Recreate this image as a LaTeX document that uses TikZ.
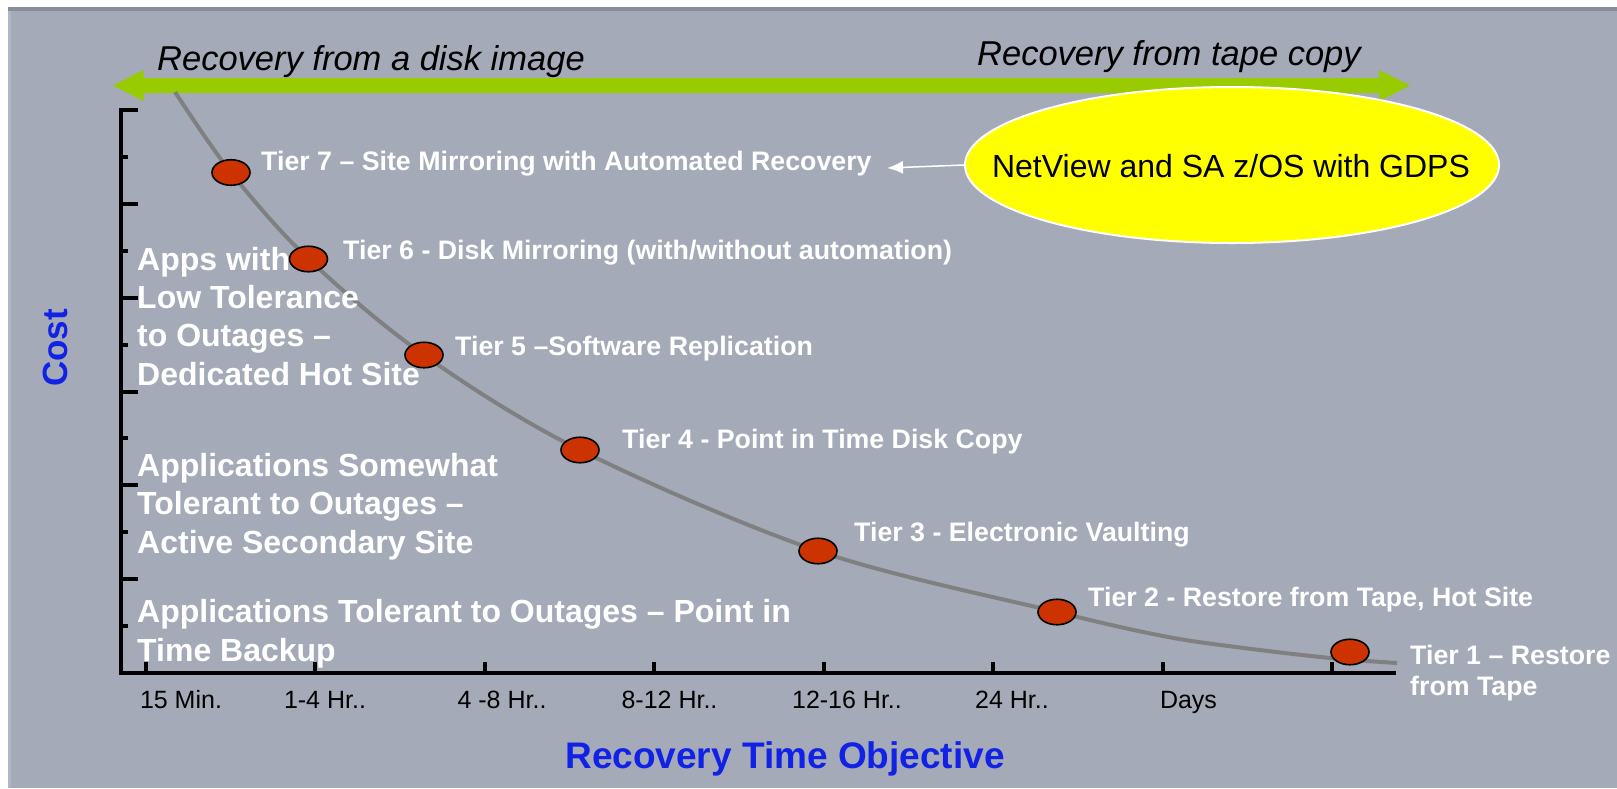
\documentclass[tikz,border=0pt]{standalone}
\usepackage{fontspec}
\setmainfont{Liberation Sans}
\usetikzlibrary{arrows.meta,shapes.geometric}
\definecolor{panel}{RGB}{164,170,183}
\definecolor{panelrim}{RGB}{136,141,150}
\definecolor{paneledge}{RGB}{176,184,200}
\definecolor{leaf}{RGB}{153,204,0}
\definecolor{dotred}{RGB}{204,51,0}
\definecolor{curvegray}{RGB}{128,128,128}
\definecolor{titleblue}{RGB}{17,34,230}
\definecolor{gdpsyellow}{RGB}{255,255,0}
\tikzset{
  tierdot/.style={ellipse, draw=black, line width=1.6pt, fill=dotred,
    minimum width=38pt, minimum height=25.5pt, inner sep=0pt},
  tierlabel/.style={anchor=base west, inner sep=0pt, text=white, align=left,
    font=\bfseries\fontsize{26.75}{31}\selectfont},
  bandlabel/.style={anchor=base west, inner sep=0pt, text=white, align=left,
    font=\bfseries\fontsize{32}{38.3}\selectfont},
  ticklabel/.style={anchor=base, inner sep=0pt, font=\fontsize{25}{30}\selectfont},
  rangelabel/.style={anchor=base west, inner sep=0pt, font=\itshape\fontsize{34.5}{40}\selectfont},
  axistitle/.style={inner sep=0pt, text=titleblue, font=\bfseries\fontsize{37}{44}\selectfont},
  axisline/.style={line width=4pt, black, line join=miter},
  ticklong/.style={line width=4pt, black},
}
\begin{document}
\begin{tikzpicture}[x=1pt,y=-1pt]
\useasboundingbox (0,0) rectangle (1617,788);

% slide panel
\fill[white] (0,0) rectangle (1617,788);
\fill[panel] (8,7) rectangle (1617,788);
\fill[panelrim] (8,7) rectangle (1617,11);
\fill[paneledge] (8,11) rectangle (10.5,788);

% double-headed range arrow
\coordinate (gl) at (113,85.5);
\coordinate (gr) at (1410,85.5);
\fill[leaf] (gl) -- (143.5,70) -- (143.5,78) -- (1379,78) -- (1379,70) -- (gr)
  -- (1379,101) -- (1379,93) -- (143.5,93) -- (143.5,101) -- cycle;
\node[rangelabel] (disk) at (157,70) {Recovery from a disk image};
\node[rangelabel] (tape) at (977,65) {Recovery from tape copy};

% cost curve
\coordinate (p7) at (231,172.5);
\coordinate (p6) at (308.5,259);
\coordinate (p5) at (424,355);
\coordinate (p4) at (580,450);
\coordinate (p3) at (818,551);
\coordinate (p2) at (1057,612);
\coordinate (p1) at (1350,652);
\draw[curvegray, line width=4pt] plot[smooth, tension=0.55] coordinates
  {(175,92) (p7) (p6) (p5) (p4) (p3) (p2) (1163,636) (1236,647) (1330,658) (1397,663)};

% tolerance bands (anchored at the baseline of the last line)
\node[bandlabel] (band1) at (137,385) {Apps with\\Low Tolerance\\to Outages –\\Dedicated Hot Site};
\node[bandlabel] (band2) at (137,553) {Applications Somewhat\\Tolerant to Outages –\\Active Secondary Site};
\node[bandlabel] (band3) at (137,661) {Applications Tolerant to Outages – Point in\\Time Backup};

% tiers
\node[tierdot] (t7) at (p7) {};
\node[tierdot] (t6) at (p6) {};
\node[tierdot] (t5) at (p5) {};
\node[tierdot] (t4) at (p4) {};
\node[tierdot] (t3) at (p3) {};
\node[tierdot] (t2) at (p2) {};
\node[tierdot] (t1) at (p1) {};
\node[tierlabel] (l7) at (261,170.5) {Tier 7 – Site Mirroring with Automated Recovery};
\node[tierlabel] (l6) at (343,259.5) {Tier 6 - Disk Mirroring (with/without automation)};
\node[tierlabel] (l5) at (455,355) {Tier 5 –Software Replication};
\node[tierlabel] (l4) at (622,448) {Tier 4 - Point in Time Disk Copy};
\node[tierlabel] (l3) at (854,541) {Tier 3 - Electronic Vaulting};
\node[tierlabel] (l2) at (1088,606.5) {Tier 2 - Restore from Tape, Hot Site};
\node[tierlabel] (l1) at (1410,695) {Tier 1 – Restore\\from Tape};

% automation callout
\node[ellipse, fill=gdpsyellow, draw=white, line width=2pt,
  minimum width=534pt, minimum height=156pt, inner sep=0pt] (gdps) at (1232,165) {};
\node[inner sep=0pt, anchor=base, font=\fontsize{32}{38}\selectfont] (gdpstext)
  at (1231,177) {NetView and SA z/OS with GDPS};
\coordinate (t7tip) at (887,168);
\draw[white, line width=1.5pt, -{Latex[length=16pt,width=13pt]}] (gdps.west) -- (t7tip);

% axes
\coordinate (ytop) at (121,110);
\coordinate (origin) at (121,673);
\coordinate (xend) at (1396,673);
\draw[axisline] (138,110) -- (ytop) -- (origin) -- (xend);
\foreach \i in {1,...,11}{
  \pgfmathsetmacro{\ty}{110+\i*46.917}
  \pgfmathsetmacro{\tx}{isodd(\i) ? 128 : 138}
  \draw[ticklong] (121,\ty) -- (\tx,\ty);
}
\foreach \k in {0,...,7}{
  \pgfmathsetmacro{\tx}{146+\k*169.43}
  \draw[line width=4pt, black] (\tx,673) -- (\tx,662);
}

% axis labels
\node[ticklabel] (x1) at (181,708) {15 Min.};
\node[ticklabel] (x2) at (325,708) {1-4 Hr..};
\node[ticklabel] (x3) at (502,708) {4 -8 Hr..};
\node[ticklabel] (x4) at (669.5,708) {8-12 Hr..};
\node[ticklabel] (x5) at (847,708) {12-16 Hr..};
\node[ticklabel] (x6) at (1012,708) {24 Hr..};
\node[ticklabel] (x7) at (1188.5,708) {Days};
\node[axistitle, anchor=base] (rto) at (785,768) {Recovery Time Objective};
\node[axistitle, rotate=90, font=\bfseries\fontsize{35}{42}\selectfont] (cost) at (55,348) {Cost};
\end{tikzpicture}
\end{document}
